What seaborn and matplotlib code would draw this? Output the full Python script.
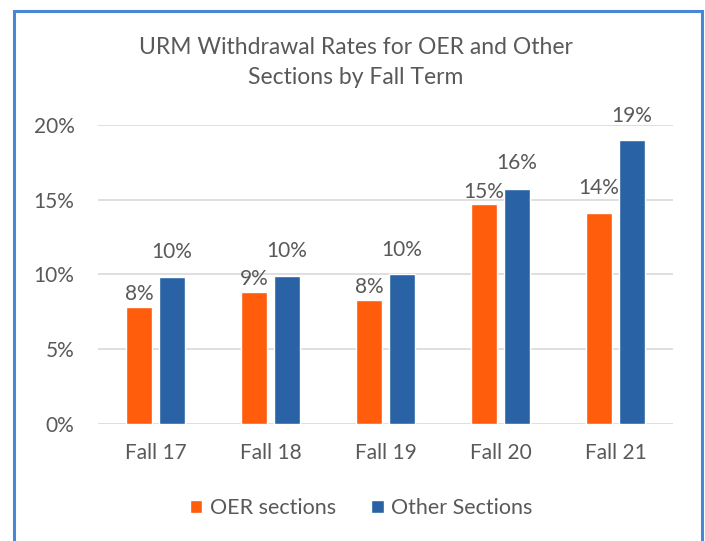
import matplotlib
matplotlib.use("Agg")
import matplotlib.pyplot as plt
import seaborn as sns
import pandas as pd
from matplotlib.patches import Rectangle, Patch

terms = ["Fall 17", "Fall 18", "Fall 19", "Fall 20", "Fall 21"]
oer_rates = [7.8, 8.8, 8.3, 14.7, 14.1]
other_rates = [9.8, 9.9, 10.0, 15.7, 19.0]
series_names = ["OER sections", "Other Sections"]
y_ticks = [0, 5, 10, 15, 20]

df = pd.DataFrame({
    "term": terms * 2,
    "rate": oer_rates + other_rates,
    "series": [series_names[0]] * len(terms) + [series_names[1]] * len(terms),
})

sns.set_theme(style="white")
plt.rcParams["font.family"] = ["Lato", "DejaVu Sans"]
TXT = "#595959"
ORANGE = "#FF5C0C"
BLUE = "#2963A5"

fig = plt.figure(figsize=(7.05, 5.41), dpi=100)
ax = fig.add_axes([98/705, 1-424/541, (673-98)/705, (424-124.7)/541])

sns.barplot(data=df, x="term", y="rate", hue="series", order=terms,
            hue_order=series_names, palette=[ORANGE, BLUE],
            width=0.574, gap=0.213, ax=ax, legend=False, saturation=1)

ax.set_xlim(-0.5, 4.5)
ax.set_ylim(0, 20)
ax.set_yticks(y_ticks)
ax.set_yticklabels([f"{t}%" for t in y_ticks])
ax.yaxis.grid(True, color="#D9D9D9", linewidth=1.2)
ax.set_axisbelow(True)
for s in ax.spines.values():
    s.set_visible(False)
ax.tick_params(axis="both", length=0, labelsize=15, colors=TXT)
ax.tick_params(axis="y", pad=17)
ax.tick_params(axis="x", pad=14)
ax.set_xlabel("")
ax.set_ylabel("")

# data labels
oer_off = [13, 13, 13, 12, 25]
oth_off = [25, 25, 24, 26, 24]
for cont, offs in zip(ax.containers, [oer_off, oth_off]):
    for bar, off in zip(cont, offs):
        h = bar.get_height()
        ax.annotate(f"{h:.0f}%", (bar.get_x() + bar.get_width()/2, h),
                    xytext=(0, off), textcoords="offset pixels",
                    ha="center", va="center", fontsize=15, color=TXT,
                    annotation_clip=False)

fig.text(356/705, 1-47/541, "URM Withdrawal Rates for OER and Other",
         ha="center", va="center", fontsize=16.5, color=TXT)
fig.text(356/705, 1-77/541, "Sections by Fall Term",
         ha="center", va="center", fontsize=16.5, color=TXT)

handles = [Patch(facecolor=ORANGE, label=series_names[0]),
           Patch(facecolor=BLUE, label=series_names[1])]
fig.legend(handles=handles, loc="center", bbox_to_anchor=(361/705, 1-508/541),
           ncol=2, frameon=False, fontsize=15.5, labelcolor=TXT,
           handlelength=0.6, handleheight=0.6, handletextpad=0.35,
           columnspacing=1.6)

fig.patches.append(Rectangle((14/705, -0.05), (702-14)/705, 1.05 - 11/541,
                             transform=fig.transFigure, fill=False,
                             edgecolor="#4A86D8", linewidth=2.2))

fig.savefig("out.png", dpi=100)
